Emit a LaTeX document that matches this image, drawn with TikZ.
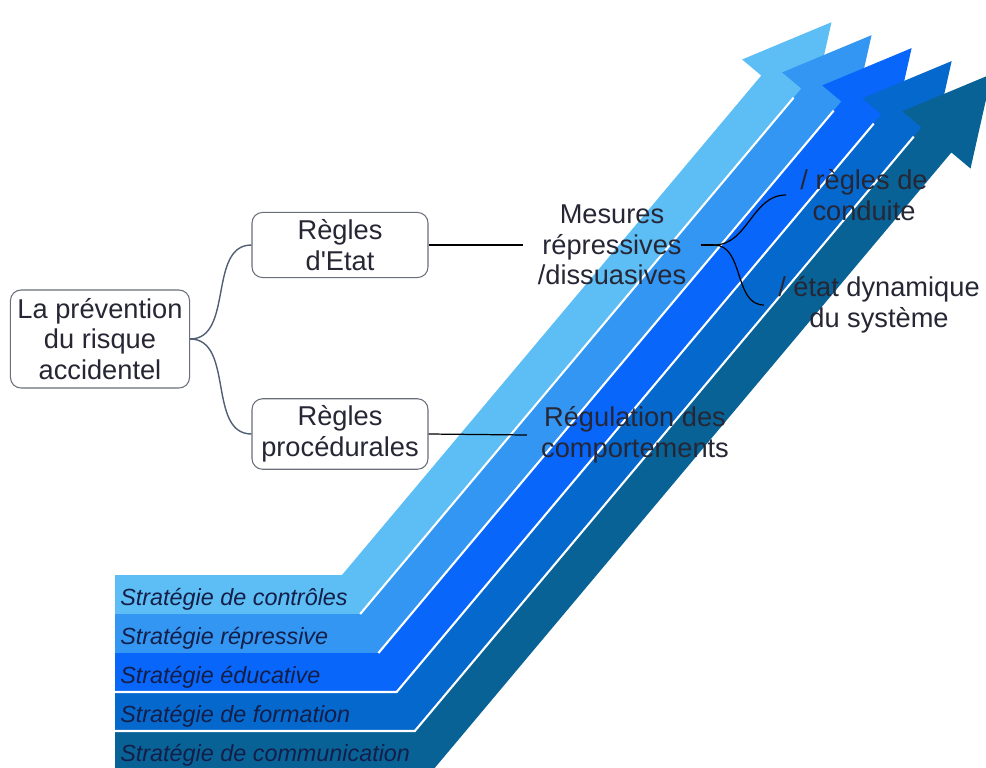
\documentclass[tikz,border=0pt]{standalone}
\usepackage{fontspec}
\setmainfont{Liberation Sans}
\usetikzlibrary{calc}

\definecolor{stratA}{RGB}{92,190,245}
\definecolor{stratB}{RGB}{50,150,242}
\definecolor{stratC}{RGB}{8,102,250}
\definecolor{stratD}{RGB}{5,104,205}
\definecolor{stratE}{RGB}{8,98,150}
\definecolor{textdark}{RGB}{38,38,52}
\definecolor{stratnavy}{RGB}{20,30,72}
\definecolor{boxgray}{RGB}{105,110,120}
\definecolor{branchgray}{RGB}{80,95,115}

\newcommand{\mapfnt}{\fontsize{15.5}{17.5}\selectfont}
\newcommand{\stratfnt}{\fontsize{13.3}{15}\selectfont\itshape}

\begin{document}
\begin{tikzpicture}[x=0.02cm, y=-0.02cm,
	box/.style={draw=boxgray, line width=0.6pt, rounded corners=6pt, fill=white,
		align=center, font=\mapfnt, text=textdark, inner sep=4pt},
	plain/.style={align=center, font=\mapfnt, text=textdark, inner xsep=8pt},
	branch/.style={draw=branchgray, line width=0.8pt},
	link/.style={draw=black, line width=0.7pt},
	strat/.style={anchor=base west, font=\stratfnt, text=stratnavy, inner sep=0pt}]
	\useasboundingbox (0,0) rectangle (986,767);
	\clip (0,0) rectangle (986,767);
	
	% Drawing the five bent strategy arrows, back to front
	\foreach \k/\col in {0/stratA,1/stratB,2/stratC,3/stratD,4/stratE}{
		\pgfmathsetmacro{\px}{342+18.2*\k}
		\pgfmathsetmacro{\py}{575+39*\k}
		\pgfmathsetmacro{\s}{652+34*\k}
		\fill[\col] (115,\py) -- (\px,\py) -- ++({0.643*\s},{-0.766*\s})
			-- ++(-19.15,-16.08) -- ++(89.39,-37.27) -- ++(-21.21,94.49)
			-- ++(-19.15,-16.08) -- ({\px+18.2},{\py+39}) -- (115,{\py+39}) -- cycle;
	}
	
	% White separators between the arrows
	\foreach \k in {1,...,4}{
		\pgfmathsetmacro{\px}{342+18.2*\k}
		\pgfmathsetmacro{\py}{575+39*\k}
		\pgfmathsetmacro{\s}{652+34*\k-12}
		\pgfmathsetmacro{\xs}{ifthenelse(\k>2,115,\px)}
		\draw[white, line width=1.2pt] (\xs,\py) -- (\px,\py) -- ++({0.643*\s},{-0.766*\s});
	}
	
	% Strategy labels on the horizontal bands
	\foreach \k/\txt in {0/Stratégie de contrôles,1/Stratégie répressive,2/Stratégie éducative,3/Stratégie de formation,4/Stratégie de communication}
		\node[strat] (lab\k) at (120,{605+39*\k}) {\txt};
	
	% Mind map of the prevention rules
	\node[box, minimum width=3.5cm, minimum height=1.96cm] (root) at (100,339) {La prévention\\du risque\\accidentel};
	\node[box, minimum width=3.52cm, minimum height=1.26cm] (etat) at (340,245) {Règles\\d\textquotesingle Etat};
	\node[box, minimum width=3.52cm, minimum height=1.26cm] (proc) at (340,434) {Règles\\procédurales};
	
	\node[plain] (mesures) at (612,245) {Mesures\\répressives\\/dissuasives};
	\node[plain] (regul) at (635,435) {Régulation des\\comportements};
	\node[plain] (conduite) at (864,195) {/ règles de\\conduite};
	\node[plain] (dynam) at (879,305) {/ état dynamique\\du système};
	\coordinate (fork) at (714,245);
	
	% Connectors
	\draw[branch] (root.east) to[out=0,in=180] (etat.west);
	\draw[branch] (root.east) to[out=0,in=180] (proc.west);
	\draw[link] (etat.east) -- (mesures.west);
	\draw[link] (proc.east) -- (regul.west);
	\draw[link] (mesures.east) -- (fork);
	\draw[link] (fork) to[out=0,in=180] (conduite.west);
	\draw[link] (fork) to[out=0,in=180] (dynam.west);
\end{tikzpicture}
\end{document}
